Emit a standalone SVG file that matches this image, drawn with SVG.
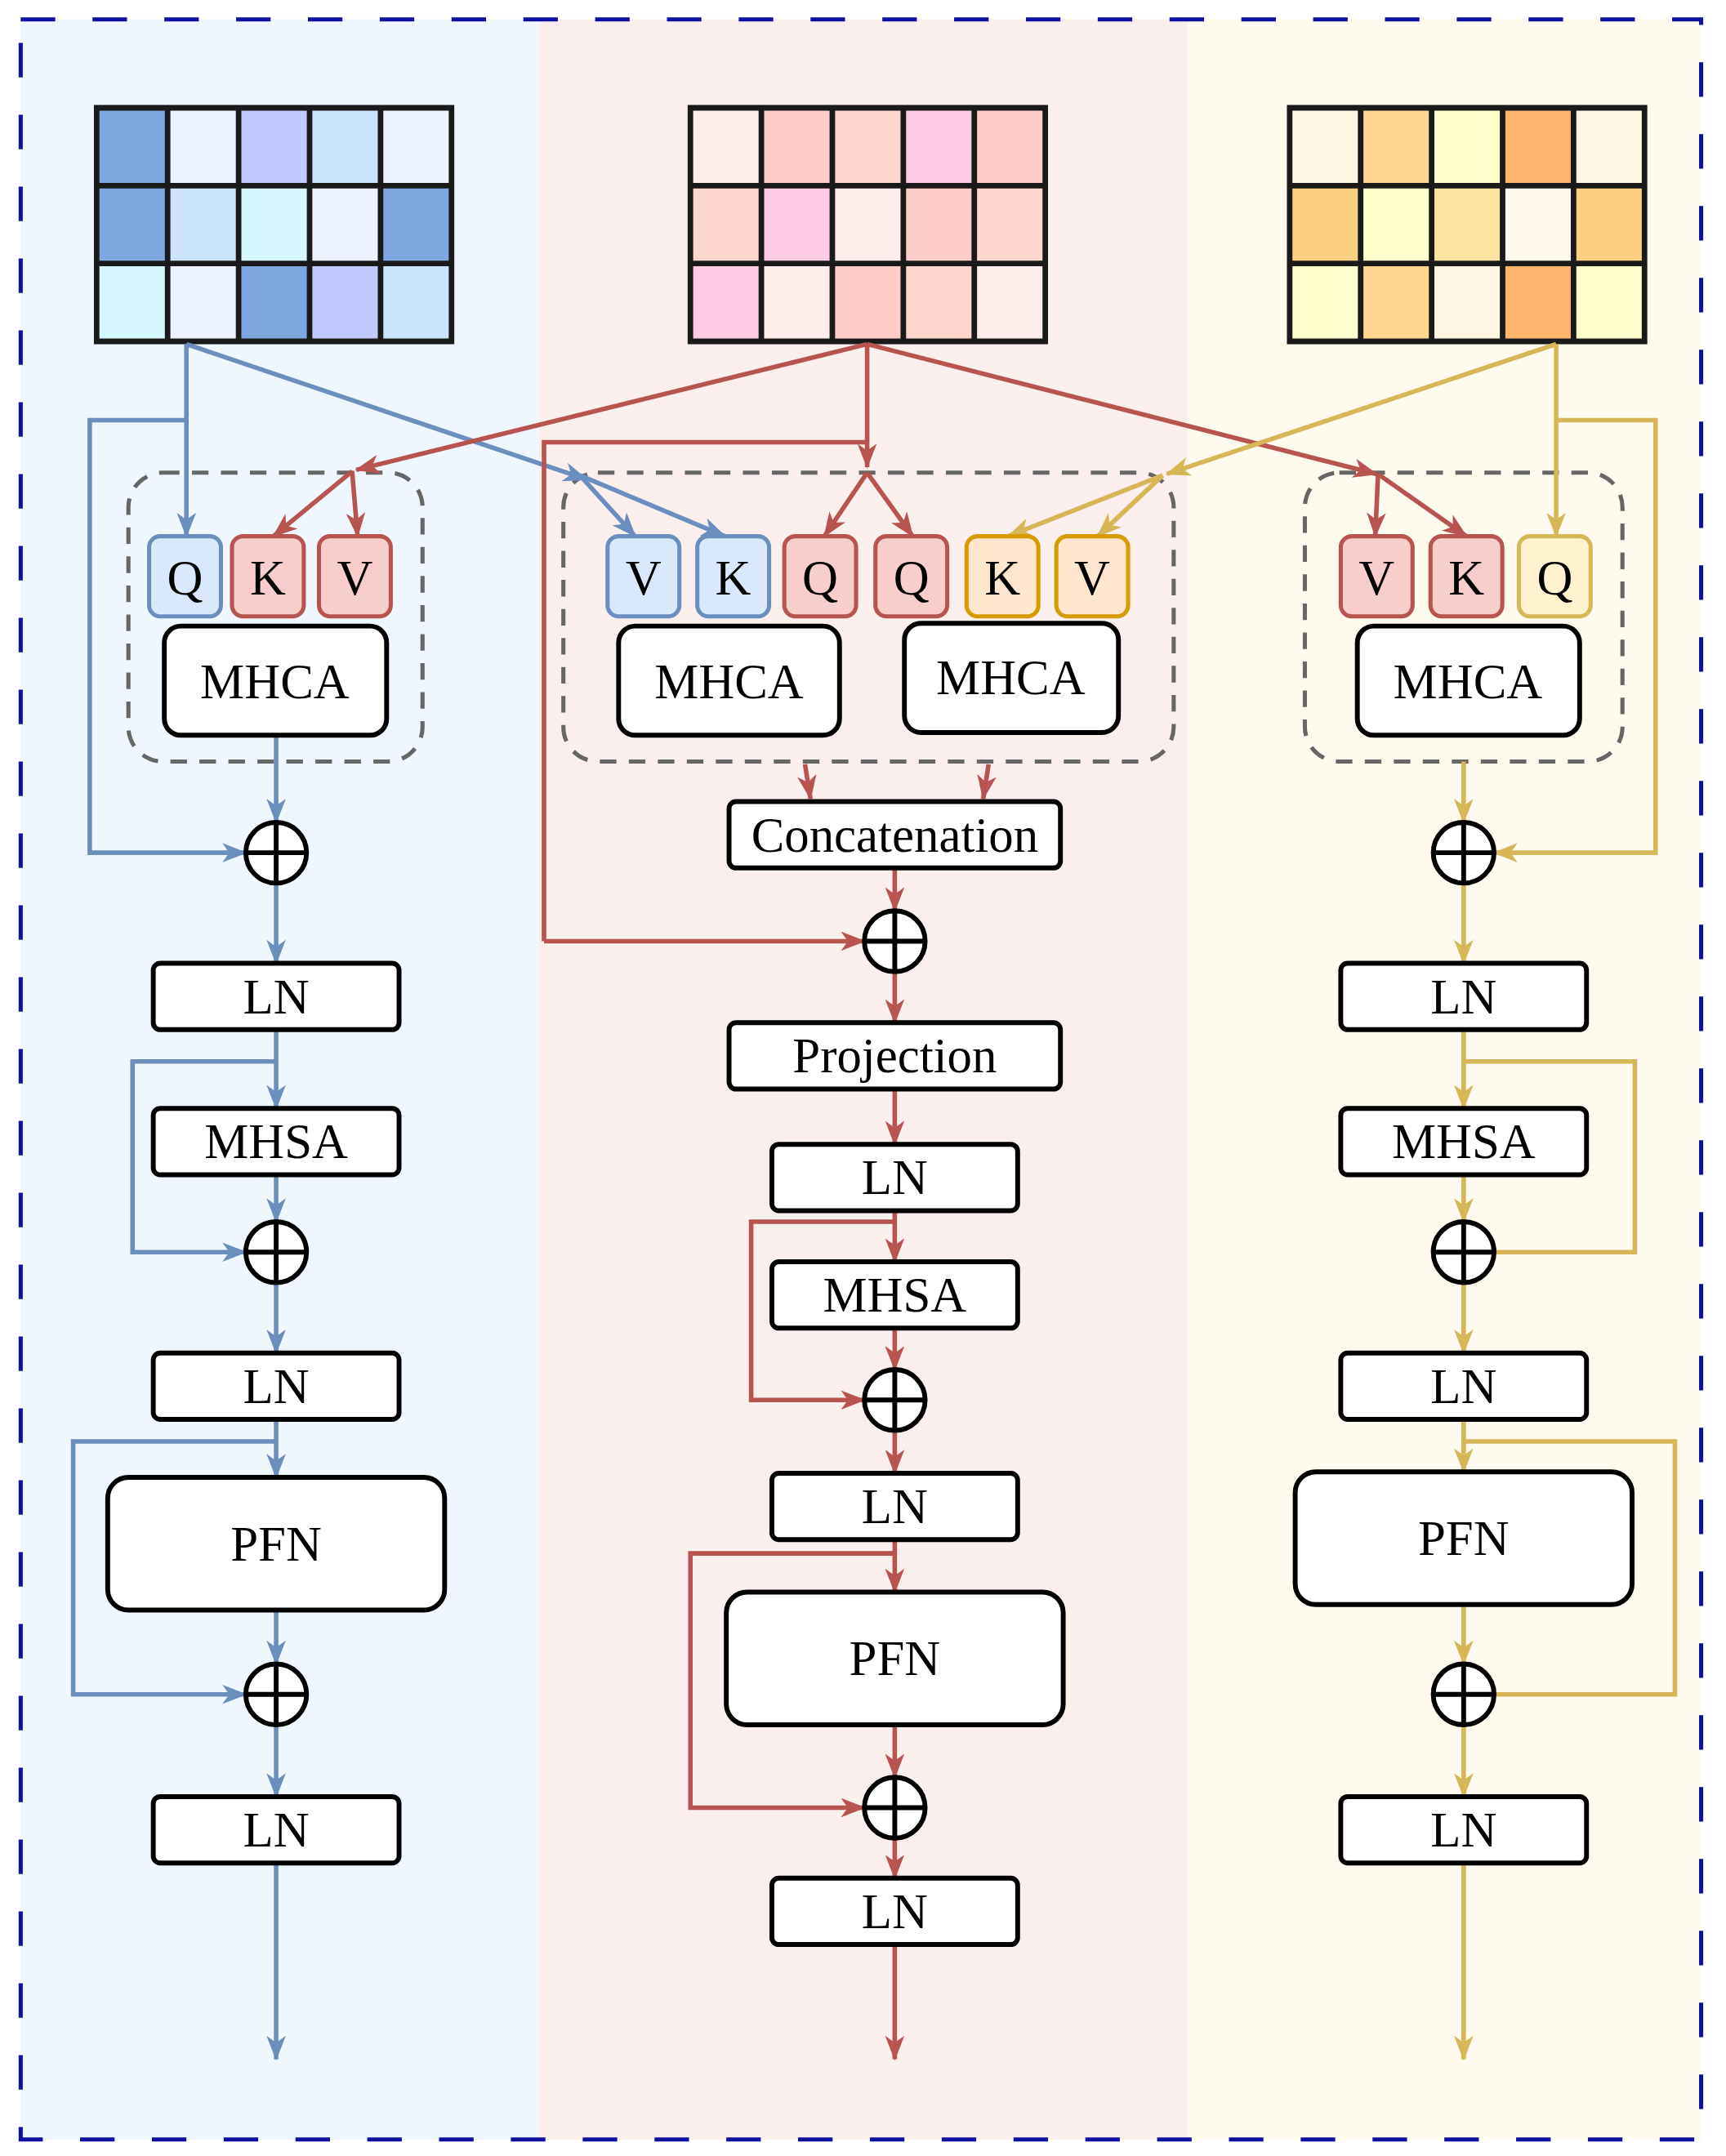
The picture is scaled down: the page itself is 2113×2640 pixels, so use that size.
<svg xmlns="http://www.w3.org/2000/svg" width="2113" height="2640" viewBox="0 0 2113 2640">
<style>
.t{font-family:"Liberation Serif",serif;font-size:36px;text-anchor:middle;dominant-baseline:central;fill:#000}
.nb{fill:#fff;stroke:#000;stroke-width:3.5}
.grid{stroke:#1a1a1a;stroke-width:4}
.db{fill:none;stroke:#666;stroke-width:3;stroke-dasharray:12 9}
.b{fill:none;stroke:#6c8ebf;stroke-width:3.3;marker-end:url(#ab)}
.r{fill:none;stroke:#b85450;stroke-width:3.3;marker-end:url(#ar)}
.y{fill:none;stroke:#d6b656;stroke-width:3.3;marker-end:url(#ay)}
.bn{fill:none;stroke:#6c8ebf;stroke-width:3.3}
.rn{fill:none;stroke:#b85450;stroke-width:3.3}
.yn{fill:none;stroke:#d6b656;stroke-width:3.3}
.qb{fill:#dae8fc;stroke:#6c8ebf;stroke-width:3}
.qr{fill:#f8cecc;stroke:#b85450;stroke-width:3}
.qo{fill:#ffe6cc;stroke:#d79b00;stroke-width:3}
.qy{fill:#fff2cc;stroke:#d6b656;stroke-width:3}
.c{fill:#fff;stroke:#000;stroke-width:3.5}
.p{stroke:#000;stroke-width:3.5}
</style>
<defs>
<marker id="ab" markerUnits="userSpaceOnUse" viewBox="0 0 18 14" refX="17" refY="7" markerWidth="18" markerHeight="14" orient="auto"><path d="M0,0 L18,7 L0,14 L5,7 z" fill="#6c8ebf"/></marker>
<marker id="ar" markerUnits="userSpaceOnUse" viewBox="0 0 18 14" refX="17" refY="7" markerWidth="18" markerHeight="14" orient="auto"><path d="M0,0 L18,7 L0,14 L5,7 z" fill="#b85450"/></marker>
<marker id="ay" markerUnits="userSpaceOnUse" viewBox="0 0 18 14" refX="17" refY="7" markerWidth="18" markerHeight="14" orient="auto"><path d="M0,0 L18,7 L0,14 L5,7 z" fill="#d6b656"/></marker>
<g id="plus"><circle class="c" r="22"/><line class="p" x1="-22" y1="0" x2="22" y2="0"/><line class="p" x1="0" y1="-22" x2="0" y2="22"/></g>
</defs>
<g transform="scale(1.6904,1.6923)">
<g id="backgrounds">
<rect x="15" y="14" width="375" height="1534" fill="#f0f6fe"/>
<rect x="390" y="14" width="470" height="1534" fill="#fbefee"/>
<rect x="860" y="14" width="372" height="1534" fill="#fefaee"/>
<rect x="15" y="14" width="1217" height="1534" fill="none" stroke="#1010a0" stroke-width="3" stroke-dasharray="25 27"/>
</g>
<g id="matrix-left">
<rect x="70" y="78" width="51.4" height="56.3" fill="#7fa6de"/><rect x="121.4" y="78" width="51.4" height="56.3" fill="#edf3fe"/><rect x="172.8" y="78" width="51.4" height="56.3" fill="#c2c9fd"/><rect x="224.2" y="78" width="51.4" height="56.3" fill="#cce4fb"/><rect x="275.6" y="78" width="51.4" height="56.3" fill="#edf3fe"/>
<rect x="70" y="134.3" width="51.4" height="56.3" fill="#7fa6de"/><rect x="121.4" y="134.3" width="51.4" height="56.3" fill="#cce4fb"/><rect x="172.8" y="134.3" width="51.4" height="56.3" fill="#d5f7fd"/><rect x="224.2" y="134.3" width="51.4" height="56.3" fill="#edf3fe"/><rect x="275.6" y="134.3" width="51.4" height="56.3" fill="#7fa6de"/>
<rect x="70" y="190.6" width="51.4" height="56.4" fill="#d5f7fd"/><rect x="121.4" y="190.6" width="51.4" height="56.4" fill="#edf3fe"/><rect x="172.8" y="190.6" width="51.4" height="56.4" fill="#7fa6de"/><rect x="224.2" y="190.6" width="51.4" height="56.4" fill="#c2c9fd"/><rect x="275.6" y="190.6" width="51.4" height="56.4" fill="#cce4fb"/>
<path class="grid" fill="none" d="M70,78H327V247H70Z M121.4,78V247 M172.8,78V247 M224.2,78V247 M275.6,78V247 M70,134.3H327 M70,190.6H327"/>
</g>
<g id="matrix-mid">
<rect x="500" y="78" width="51.4" height="56.3" fill="#fdeeec"/><rect x="551.4" y="78" width="51.4" height="56.3" fill="#fdcdca"/><rect x="602.8" y="78" width="51.4" height="56.3" fill="#fdd7cd"/><rect x="654.2" y="78" width="51.4" height="56.3" fill="#fdcbe4"/><rect x="705.6" y="78" width="51.4" height="56.3" fill="#fdcdca"/>
<rect x="500" y="134.3" width="51.4" height="56.3" fill="#fdd7cd"/><rect x="551.4" y="134.3" width="51.4" height="56.3" fill="#fdcbe4"/><rect x="602.8" y="134.3" width="51.4" height="56.3" fill="#fdeeec"/><rect x="654.2" y="134.3" width="51.4" height="56.3" fill="#fdcdca"/><rect x="705.6" y="134.3" width="51.4" height="56.3" fill="#fdd7cd"/>
<rect x="500" y="190.6" width="51.4" height="56.4" fill="#fdcbe4"/><rect x="551.4" y="190.6" width="51.4" height="56.4" fill="#fdeeec"/><rect x="602.8" y="190.6" width="51.4" height="56.4" fill="#fdcdca"/><rect x="654.2" y="190.6" width="51.4" height="56.4" fill="#fdd7cd"/><rect x="705.6" y="190.6" width="51.4" height="56.4" fill="#fdeeec"/>
<path class="grid" fill="none" d="M500,78H757V247H500Z M551.4,78V247 M602.8,78V247 M654.2,78V247 M705.6,78V247 M500,134.3H757 M500,190.6H757"/>
</g>
<g id="matrix-right">
<rect x="934" y="78" width="51.4" height="56.3" fill="#fef6e3"/><rect x="985.4" y="78" width="51.4" height="56.3" fill="#fdd690"/><rect x="1036.8" y="78" width="51.4" height="56.3" fill="#fefecc"/><rect x="1088.2" y="78" width="51.4" height="56.3" fill="#fdb46c"/><rect x="1139.6" y="78" width="51.4" height="56.3" fill="#fef6e3"/>
<rect x="934" y="134.3" width="51.4" height="56.3" fill="#fdcf80"/><rect x="985.4" y="134.3" width="51.4" height="56.3" fill="#fefecc"/><rect x="1036.8" y="134.3" width="51.4" height="56.3" fill="#fde3a0"/><rect x="1088.2" y="134.3" width="51.4" height="56.3" fill="#fef8ec"/><rect x="1139.6" y="134.3" width="51.4" height="56.3" fill="#fdcf80"/>
<rect x="934" y="190.6" width="51.4" height="56.4" fill="#fefecc"/><rect x="985.4" y="190.6" width="51.4" height="56.4" fill="#fdd690"/><rect x="1036.8" y="190.6" width="51.4" height="56.4" fill="#fef6e3"/><rect x="1088.2" y="190.6" width="51.4" height="56.4" fill="#fdb46c"/><rect x="1139.6" y="190.6" width="51.4" height="56.4" fill="#fefecc"/>
<path class="grid" fill="none" d="M934,78H1191V247H934Z M985.4,78V247 M1036.8,78V247 M1088.2,78V247 M1139.6,78V247 M934,134.3H1191 M934,190.6H1191"/>
</g>
<g id="groups">
<rect class="db" x="93" y="342" width="213" height="209" rx="25"/>
<rect class="db" x="408" y="342" width="442" height="209" rx="25"/>
<rect class="db" x="945" y="342" width="230" height="209" rx="25"/>
</g>
<g id="connectors">
<path class="b" d="M135,249V388"/>
<path class="b" d="M135,304H65V617H178"/>
<path class="b" d="M135,249L425,347"/>
<path class="b" d="M420,344L460,388"/>
<path class="b" d="M420,344L525,388"/>
<path class="b" d="M200,532V595"/>
<path class="b" d="M200,639V697"/>
<path class="b" d="M200,745V802"/>
<path class="b" d="M200,768H96V906H178"/>
<path class="b" d="M200,850V884"/>
<path class="b" d="M200,928V979"/>
<path class="b" d="M200,1027V1069"/>
<path class="b" d="M200,1043H53V1226H178"/>
<path class="b" d="M200,1165V1204"/>
<path class="b" d="M200,1248V1300"/>
<path class="b" d="M200,1348V1490"/>
<path class="r" d="M628,249L258,340"/>
<path class="r" d="M255,341L198,388"/>
<path class="r" d="M255,341L259,388"/>
<path class="r" d="M628,249V338"/>
<path class="r" d="M628,342L597,388"/>
<path class="r" d="M628,342L661,388"/>
<path class="r" d="M628,249L997,343"/>
<path class="r" d="M998,343L996,388"/>
<path class="r" d="M998,343L1062,388"/>
<path class="rn" d="M628,320H394V681"/>
<path class="r" d="M394,681H626"/>
<path class="r" d="M583,553L587,578"/>
<path class="r" d="M716,553L712,578"/>
<path class="r" d="M648,628V659"/>
<path class="r" d="M648,703V740"/>
<path class="r" d="M648,788V828"/>
<path class="r" d="M648,876V913"/>
<path class="r" d="M648,884H544V1013H626"/>
<path class="r" d="M648,961V991"/>
<path class="r" d="M648,1035V1066"/>
<path class="r" d="M648,1114V1152"/>
<path class="r" d="M648,1124H500V1308H626"/>
<path class="r" d="M648,1248V1286"/>
<path class="r" d="M648,1330V1359"/>
<path class="r" d="M648,1407V1490"/>
<path class="y" d="M1127,249L845,343"/>
<path class="y" d="M842,344L730,388"/>
<path class="y" d="M842,344L795,388"/>
<path class="y" d="M1127,249V388"/>
<path class="y" d="M1127,304H1199V617H1082"/>
<path class="y" d="M1060,551V595"/>
<path class="y" d="M1060,639V697"/>
<path class="y" d="M1060,745V802"/>
<path class="yn" d="M1060,768H1184V906H1082"/>
<path class="y" d="M1060,850V884"/>
<path class="y" d="M1060,928V979"/>
<path class="y" d="M1060,1027V1065"/>
<path class="yn" d="M1060,1043H1213V1226H1082"/>
<path class="y" d="M1060,1161V1204"/>
<path class="y" d="M1060,1248V1300"/>
<path class="y" d="M1060,1348V1490"/>
</g>
<g id="left-column">
<rect class="qb" x="108" y="388" width="52" height="58" rx="8"/><text class="t" x="134" y="418">Q</text>
<rect class="qr" x="168" y="388" width="52" height="58" rx="8"/><text class="t" x="194" y="418">K</text>
<rect class="qr" x="231" y="388" width="52" height="58" rx="8"/><text class="t" x="257" y="418">V</text>
<rect class="nb" x="119" y="453" width="161" height="79" rx="12"/><text class="t" x="199" y="493">MHCA</text>
<use href="#plus" x="200" y="617"/>
<rect class="nb" x="111" y="697" width="178" height="48" rx="5"/><text class="t" x="200" y="721">LN</text>
<rect class="nb" x="111" y="802" width="178" height="48" rx="5"/><text class="t" x="200" y="826">MHSA</text>
<use href="#plus" x="200" y="906"/>
<rect class="nb" x="111" y="979" width="178" height="48" rx="5"/><text class="t" x="200" y="1003">LN</text>
<rect class="nb" x="78" y="1069" width="244" height="96" rx="15"/><text class="t" x="200" y="1117">PFN</text>
<use href="#plus" x="200" y="1226"/>
<rect class="nb" x="111" y="1300" width="178" height="48" rx="5"/><text class="t" x="200" y="1324">LN</text>
</g>
<g id="middle-column">
<rect class="qb" x="440" y="388" width="52" height="58" rx="8"/><text class="t" x="466" y="418">V</text>
<rect class="qb" x="505" y="388" width="52" height="58" rx="8"/><text class="t" x="531" y="418">K</text>
<rect class="qr" x="568" y="388" width="52" height="58" rx="8"/><text class="t" x="594" y="418">Q</text>
<rect class="qr" x="634" y="388" width="52" height="58" rx="8"/><text class="t" x="660" y="418">Q</text>
<rect class="qo" x="700" y="388" width="52" height="58" rx="8"/><text class="t" x="726" y="418">K</text>
<rect class="qo" x="765" y="388" width="52" height="58" rx="8"/><text class="t" x="791" y="418">V</text>
<rect class="nb" x="448" y="453" width="160" height="79" rx="12"/><text class="t" x="528" y="493">MHCA</text>
<rect class="nb" x="655" y="451" width="155" height="79" rx="12"/><text class="t" x="732" y="490">MHCA</text>
<rect class="nb" x="528" y="580" width="240" height="48" rx="5"/><text class="t" x="648" y="604">Concatenation</text>
<use href="#plus" x="648" y="681"/>
<rect class="nb" x="528" y="740" width="240" height="48" rx="5"/><text class="t" x="648" y="764">Projection</text>
<rect class="nb" x="559" y="828" width="178" height="48" rx="5"/><text class="t" x="648" y="852">LN</text>
<rect class="nb" x="559" y="913" width="178" height="48" rx="5"/><text class="t" x="648" y="937">MHSA</text>
<use href="#plus" x="648" y="1013"/>
<rect class="nb" x="559" y="1066" width="178" height="48" rx="5"/><text class="t" x="648" y="1090">LN</text>
<rect class="nb" x="526" y="1152" width="244" height="96" rx="15"/><text class="t" x="648" y="1200">PFN</text>
<use href="#plus" x="648" y="1308"/>
<rect class="nb" x="559" y="1359" width="178" height="48" rx="5"/><text class="t" x="648" y="1383">LN</text>
</g>
<g id="right-column">
<rect class="qr" x="971" y="388" width="52" height="58" rx="8"/><text class="t" x="997" y="418">V</text>
<rect class="qr" x="1036" y="388" width="52" height="58" rx="8"/><text class="t" x="1062" y="418">K</text>
<rect class="qy" x="1100" y="388" width="52" height="58" rx="8"/><text class="t" x="1126" y="418">Q</text>
<rect class="nb" x="983" y="453" width="161" height="79" rx="12"/><text class="t" x="1063" y="493">MHCA</text>
<use href="#plus" x="1060" y="617"/>
<rect class="nb" x="971" y="697" width="178" height="48" rx="5"/><text class="t" x="1060" y="721">LN</text>
<rect class="nb" x="971" y="802" width="178" height="48" rx="5"/><text class="t" x="1060" y="826">MHSA</text>
<use href="#plus" x="1060" y="906"/>
<rect class="nb" x="971" y="979" width="178" height="48" rx="5"/><text class="t" x="1060" y="1003">LN</text>
<rect class="nb" x="938" y="1065" width="244" height="96" rx="15"/><text class="t" x="1060" y="1113">PFN</text>
<use href="#plus" x="1060" y="1226"/>
<rect class="nb" x="971" y="1300" width="178" height="48" rx="5"/><text class="t" x="1060" y="1324">LN</text>
</g>
</g>
</svg>
